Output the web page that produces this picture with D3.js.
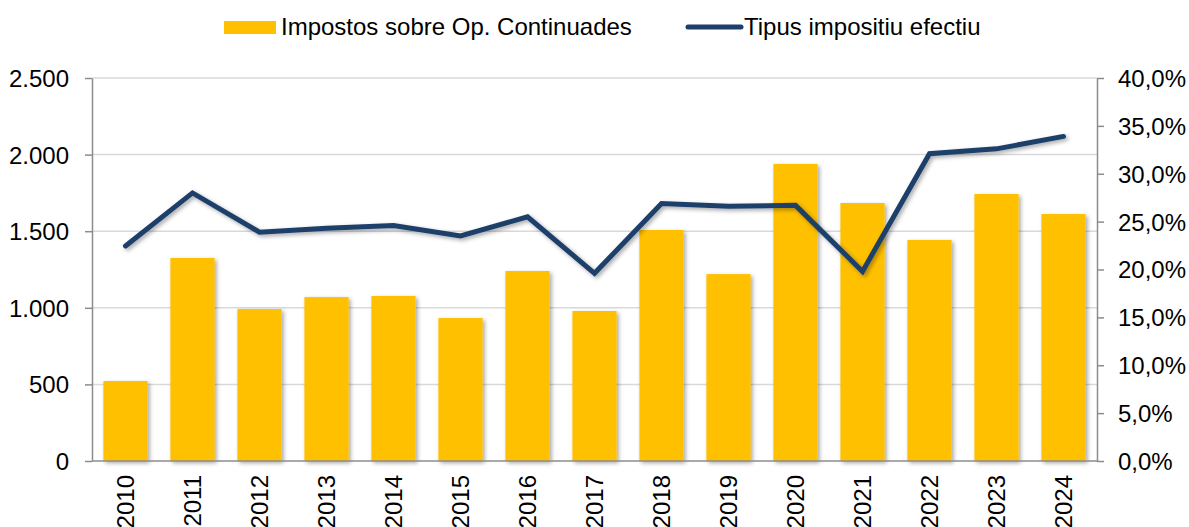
<!DOCTYPE html>
<html>
<head>
<meta charset="utf-8">
<style>
body { margin: 0; background: #fff; }
text { font-family: "Liberation Sans", Arial, sans-serif; fill: #000; }
.grid line { stroke: #d9d9d9; stroke-width: 1.5px; }
.axis path, .axis line { stroke: #8c8c8c; stroke-width: 1.5px; }
</style>
</head>
<body>
<div id="chart"></div>
<script src="https://d3js.org/d3.v7.min.js"></script>
<script>

var years = ["2010","2011","2012","2013","2014","2015","2016","2017","2018","2019","2020","2021","2022","2023","2024"];
var taxes = [522, 1325, 992, 1070, 1077, 933, 1240, 979, 1508, 1220, 1939, 1684, 1443, 1743, 1612];
var rate = [22.45, 28.0, 23.9, 24.3, 24.6, 23.5, 25.5, 19.6, 26.9, 26.6, 26.7, 19.8, 32.1, 32.6, 33.9];
var leftTicks = [0, 500, 1000, 1500, 2000, 2500];
var rightTicks = [0, 5, 10, 15, 20, 25, 30, 35, 40];

var width = 1189, height = 527;
var margin = {top: 78, right: 92, bottom: 66, left: 92};
var fs = "24px";

var svg = d3.select("#chart").append("svg")
    .attr("width", width)
    .attr("height", height);

var defs = svg.append("defs");
var f = defs.append("filter").attr("id", "shadow")
    .attr("x", "-20%").attr("y", "-20%").attr("width", "140%").attr("height", "140%");
f.append("feDropShadow").attr("dx", 2).attr("dy", 2).attr("stdDeviation", 2)
    .attr("flood-color", "#000").attr("flood-opacity", 0.35);

var x = d3.scaleBand()
    .domain(years)
    .range([margin.left, width - margin.right])
    .paddingInner(0.34)
    .paddingOuter(0.17);

var yL = d3.scaleLinear().domain([0, 2500]).range([height - margin.bottom, margin.top]);
var yR = d3.scaleLinear().domain([0, 40]).range([height - margin.bottom, margin.top]);

// gridlines
svg.append("g").attr("class", "grid")
  .selectAll("line")
  .data(leftTicks.slice(1))
  .enter().append("line")
    .attr("x1", margin.left)
    .attr("x2", width - margin.right)
    .attr("y1", function(d) { return yL(d); })
    .attr("y2", function(d) { return yL(d); });

// bars
svg.append("g")
  .selectAll("rect")
  .data(taxes)
  .enter().append("rect")
    .attr("x", function(d, i) { return x(years[i]); })
    .attr("y", function(d) { return yL(d); })
    .attr("width", x.bandwidth())
    .attr("height", function(d) { return yL(0) - yL(d); })
    .attr("fill", "#ffc000")
    .attr("filter", "url(#shadow)");

// left axis
var fmtL = function(d) { return d3.format(",")(d).replace(/,/g, "."); };
var axL = svg.append("g").attr("class", "axis")
    .attr("transform", "translate(" + margin.left + ",0)")
    .call(d3.axisLeft(yL).tickValues(leftTicks).tickFormat(fmtL).tickSize(7).tickSizeOuter(0));
axL.selectAll("text").attr("x", -23).style("font-size", fs).attr("dy", "0.35em");

// right axis
var fmtR = function(d) { return d3.format(".1f")(d).replace(".", ",") + "%"; };
var axR = svg.append("g").attr("class", "axis")
    .attr("transform", "translate(" + (width - margin.right) + ",0)")
    .call(d3.axisRight(yR).tickValues(rightTicks).tickFormat(fmtR).tickSize(7).tickSizeOuter(0));
axR.selectAll("text").attr("x", 21).style("font-size", fs).attr("dy", "0.35em");

// bottom baseline
svg.append("line")
    .attr("x1", margin.left).attr("x2", width - margin.right)
    .attr("y1", yL(0)).attr("y2", yL(0))
    .attr("stroke", "#8c8c8c").attr("stroke-width", 1.5);

// x labels
svg.append("g")
  .selectAll("text")
  .data(years)
  .enter().append("text")
    .attr("transform", function(d) {
      return "translate(" + (x(d) + x.bandwidth() / 2) + "," + (yL(0) + 14) + ")rotate(-90)";
    })
    .attr("text-anchor", "end")
    .attr("dy", "0.35em")
    .style("font-size", fs)
    .text(function(d) { return d; });

// line
var line = d3.line()
    .x(function(d, i) { return x(years[i]) + x.bandwidth() / 2; })
    .y(function(d) { return yR(d); });

svg.append("path")
    .datum(rate)
    .attr("d", line)
    .attr("fill", "none")
    .attr("stroke", "#1f3f6b")
    .attr("stroke-width", 5)
    .attr("stroke-linejoin", "miter")
    .attr("stroke-linecap", "round")
    .attr("filter", "url(#shadow)");

// legend
var leg = svg.append("g");
leg.append("rect").attr("x", 224).attr("y", 21).attr("width", 52).attr("height", 13).attr("fill", "#ffc000");
leg.append("text").attr("x", 281).attr("y", 35).style("font-size", fs).text("Impostos sobre Op. Continuades");
leg.append("line").attr("x1", 688).attr("x2", 741).attr("y1", 27).attr("y2", 27)
    .attr("stroke", "#1f3f6b").attr("stroke-width", 5).attr("stroke-linecap", "round");
leg.append("text").attr("x", 744).attr("y", 35).style("font-size", fs).text("Tipus impositiu efectiu");

</script>
</body>
</html>
